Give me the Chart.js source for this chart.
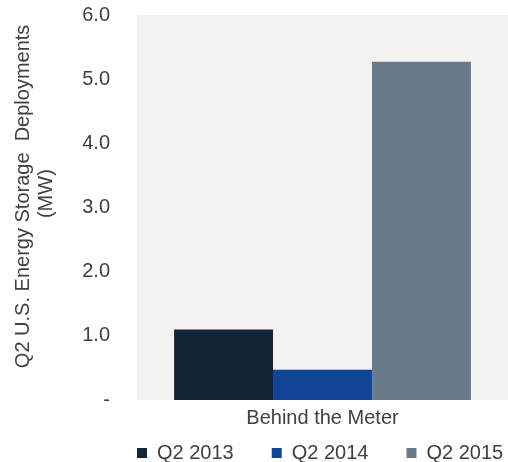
<!DOCTYPE html>
<html><head><meta charset="utf-8">
<script src="https://cdn.jsdelivr.net/npm/chart.js@4/dist/chart.umd.min.js"></script>
<style>html,body{margin:0;padding:0;background:#fff;overflow:hidden}#wrap{width:508px;height:462px}</style>
</head><body><div id="wrap"><canvas id="c" width="508" height="462"></canvas></div>
<script>
const categories = ["Behind the Meter"];
const seriesNames = ["Q2 2013", "Q2 2014", "Q2 2015"];
const q2_2013 = [1.10];
const q2_2014 = [0.47];
const q2_2015 = [5.27];
const seriesColors = ["#132537", "#0f4496", "#687a8c"];
const yTitle = ["    Q2 U.S. Energy Storage  Deployments", "     (MW)"];

const bgPlugin = {
  id: 'bg',
  beforeDraw(chart) {
    const {ctx, chartArea: a} = chart;
    ctx.save();
    ctx.fillStyle = '#f2f2f2';
    ctx.fillRect(a.left, a.top, a.right - a.left, a.bottom - a.top);
    ctx.restore();
    if (chart.legend) {
      chart.legend.left = 99;
      chart.legend.right = 700;
      chart.legend.top = 405;
    }
  }
};

Chart.defaults.font.family = '"Liberation Sans", Arial, sans-serif';
Chart.defaults.color = '#404040';

new Chart(document.getElementById('c'), {
  type: 'bar',
  data: {
    labels: categories,
    datasets: [
      {label: seriesNames[0], data: q2_2013, backgroundColor: seriesColors[0]},
      {label: seriesNames[1], data: q2_2014, backgroundColor: seriesColors[1]},
      {label: seriesNames[2], data: q2_2015, backgroundColor: seriesColors[2]}
    ]
  },
  options: {
    responsive: false,
    animation: false,
    devicePixelRatio: 1,
    layout: {padding: {left: 11.5, top: 15, right: 0, bottom: -42}},
    datasets: {bar: {categoryPercentage: 0.8, barPercentage: 1.0}},
    plugins: {
      legend: {
        position: 'bottom',
        align: 'start',
        labels: {boxWidth: 10, boxHeight: 10, padding: 38, font: {size: 20}, color: '#404040'}
      },
      tooltip: {enabled: false}
    },
    scales: {
      x: {
        grid: {display: false, drawTicks: false},
        border: {display: false},
        ticks: {font: {size: 20}, color: '#404040', padding: 6}
      },
      y: {
        min: 0, max: 6,
        grid: {display: false, drawTicks: true, tickLength: 27},
        border: {display: false},
        ticks: {
          stepSize: 1, font: {size: 20}, color: '#404040', padding: 0,
          callback: v => v === 0 ? '-' : v.toFixed(1)
        },
        title: {display: true, text: yTitle, font: {size: 20, lineHeight: 1.15}, color: '#404040', padding: {top: 0, bottom: 24.7}}
      }
    }
  },
  plugins: [bgPlugin]
});
</script></body></html>
